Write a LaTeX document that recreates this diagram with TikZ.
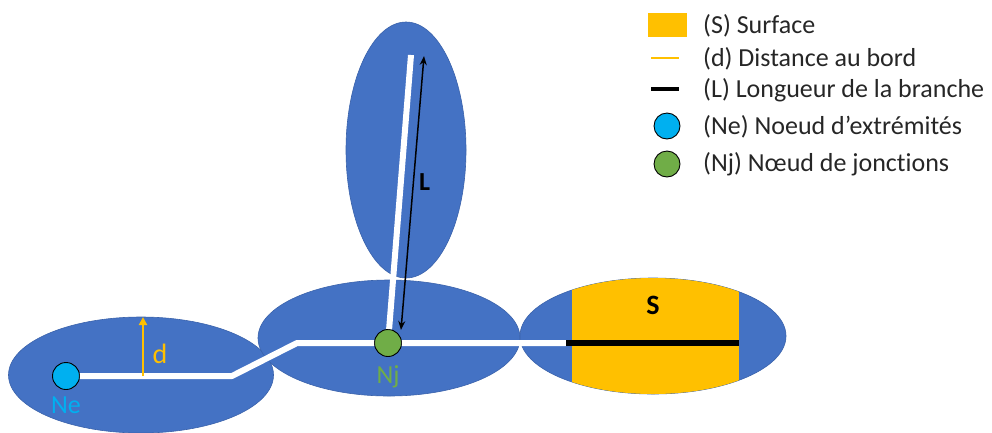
\documentclass[tikz,border=0pt]{standalone}
\usepackage{fontspec}
\setmainfont{Carlito}[Ligatures=NoCommon]
\usetikzlibrary{shapes.geometric,arrows.meta}
\definecolor{lobeblue}{HTML}{4472C4}
\definecolor{lobeedge}{HTML}{3A62AB}
\definecolor{surforange}{HTML}{FFC000}
\definecolor{endcyan}{HTML}{00B0F0}
\definecolor{joingreen}{HTML}{70AD47}
\definecolor{ink}{HTML}{262626}
\tikzstyle{lobe} = [draw=lobeedge, fill=lobeblue, ellipse, inner sep=0pt, line width=0.6pt]
\tikzstyle{extnode} = [draw=black, fill=endcyan, circle, minimum size=27pt, inner sep=0pt, line width=0.9pt]
\tikzstyle{jncnode} = [draw=black, fill=joingreen, circle, minimum size=27pt, inner sep=0pt, line width=0.9pt]
\tikzstyle{branch} = [draw=white, line width=6pt, line join=round]
\tikzstyle{legend} = [anchor=west, text=ink, inner sep=0pt, font=\fontsize{26}{30}\selectfont]

\begin{document}
\begin{tikzpicture}[x=1pt,y=-1pt]
	\useasboundingbox (0,0) rectangle (992,432);

	% the four lobes of the shape
	\node [lobe, minimum width=265pt, minimum height=116pt] (lobe1) at (141,375) {};
	\node [lobe, minimum width=120pt, minimum height=256pt] (lobe3) at (406,150) {};
	\node [lobe, minimum width=262pt, minimum height=116pt] (lobe2) at (389,338) {};
	\node [lobe, minimum width=266pt, minimum height=116pt] (lobe4) at (653,336) {};

	% surface of the right lobe
	\begin{scope}
		\clip (653,336) ellipse [x radius=133, y radius=58];
		\fill [surforange] (572,270) rectangle (739,400);
	\end{scope}
	\node [font=\bfseries\fontsize{28}{32}\selectfont] (slabel) at (653,305) {S};

	% nodes of the skeleton
	\node [extnode] (ne) at (66,376) {};
	\node [jncnode] (nj) at (388,343) {};
	\node [below of=ne, node distance=29pt, text=endcyan, font=\fontsize{26}{30}\selectfont] (nelabel) {Ne};
	\node [below of=nj, node distance=34pt, text=joingreen, font=\fontsize{26}{30}\selectfont] (njlabel) {Nj};

	% skeleton branches
	\coordinate (b1) at (232,376);
	\coordinate (b2) at (297,343);
	\coordinate (send) at (566,343);
	\coordinate (bend) at (739,343);
	\coordinate (btip) at (411,55);
	\draw [branch] (ne) -- (b1) -- (b2) -- (nj) -- (send);
	\draw [branch] (nj) -- (btip);
	\draw [line width=6pt] (send) -- (bend);

	% length of the branch
	\coordinate (ltop) at (424,56);
	\coordinate (lbot) at (401,330);
	\draw [{Stealth[length=9pt,width=7pt]}-{Stealth[length=9pt,width=7pt]}, line width=1.5pt] (ltop) -- node[pos=0.46, right, inner sep=5pt, font=\bfseries\fontsize{26}{30}\selectfont] (llabel) {L} (lbot);

	% distance to the border
	\coordinate (dfoot) at (143,376);
	\coordinate (dtop) at (143,317);
	\draw [surforange, line width=2.5pt, -{Triangle[length=8pt,width=8pt]}] (dfoot) -- (dtop);
	\node [text=surforange, font=\fontsize{28}{32}\selectfont] (dlabel) at (160,354) {d};

	% legend
	\node [fill=surforange, minimum width=39pt, minimum height=24pt, inner sep=0pt] (keys) at (667,25) {};
	\coordinate (keyd1) at (651,58);
	\coordinate (keyd2) at (679,58);
	\draw [surforange, line width=2.5pt] (keyd1) -- (keyd2);
	\coordinate (keyl1) at (651,89);
	\coordinate (keyl2) at (679,89);
	\draw [line width=4pt] (keyl1) -- (keyl2);
	\node [extnode, minimum size=26pt] (keyne) at (667,126) {};
	\node [jncnode, minimum size=26pt] (keynj) at (667,164) {};

	\node [legend] (txts) at (703,26) {(S) Surface};
	\node [legend] (txtd) at (703,59) {(d) Distance au bord};
	\node [legend] (txtl) at (703,90) {(L) Longueur de la branche};
	\node [legend] (txtne) at (703,127) {(Ne) Noeud d’extrémités};
	\node [legend] (txtnj) at (703,164) {(Nj) Nœud de jonctions};

\end{tikzpicture}
\end{document}
